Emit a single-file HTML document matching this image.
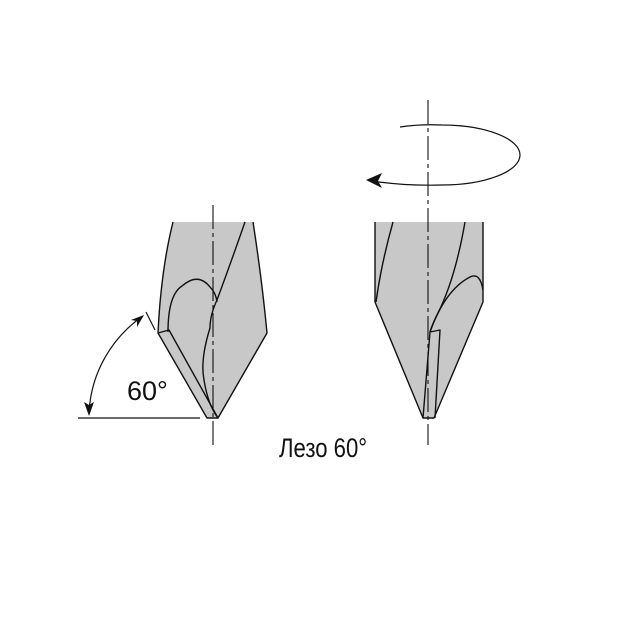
<!DOCTYPE html>
<html><head><meta charset="utf-8"><style>html,body{margin:0;padding:0;background:#fff}</style></head>
<body>
<svg width="630" height="630" viewBox="0 0 630 630" xmlns="http://www.w3.org/2000/svg">
<g stroke="#111" stroke-width="1.4" fill="#c8c8c8" stroke-linejoin="round">
<!-- left drill -->
<path d="M173,222 L253,222 Q262,280 267,333 L218,418 L207,418 L158,333 Q161,270 173,222 Z" stroke="none"/>
<path d="M173,222 Q161,270 158,333 L207,418 L218,418 L267,333 Q262,280 253,222" fill="none"/>
<path d="M158,333 L169,330 L218,418" fill="none"/>
<path d="M245,222 Q230,265 217,300 Q210,315 210,328 Q200,360 204,380 Q208,405 218,418" fill="none"/>
<path d="M168,332 Q168,295 182,286 Q198,272 210,287 Q216,293 217,302" fill="none"/>
<!-- right drill -->
<path d="M375,222 L483,222 L483,302 L434,418 L423,418 L375,302 Z" stroke="none"/>
<path d="M375,222 L375,302 L423,418 L434,418 L483,302 L483,222" fill="none"/>
<path d="M393,222 Q381,265 376,302" fill="none"/>
<path d="M465,222 Q455,280 437,315 Q432,325 430,332" fill="none"/>
<path d="M430,332 Q445,290 470,277 Q480,272 483,290" fill="none"/>
<path d="M430,332 L440,330 L435,418 M430,332 L423,418" fill="none"/>
</g>
<!-- axes -->
<g stroke="#111" stroke-width="1.1" stroke-dasharray="24,4,4,4" fill="none">
<line x1="213" y1="205" x2="213" y2="445"/>
<line x1="428" y1="100" x2="428" y2="445"/>
</g>
<!-- rotation ellipse -->
<path d="M400,127 Q420,124 442,125 A78,30 0 0 1 442,185 Q405,186 372,181" fill="none" stroke="#111" stroke-width="1.2"/>
<path d="M366,180 L382,173 L378,181 L382,188 Z" fill="#111"/>
<!-- dimension -->
<g stroke="#111" stroke-width="1.2" fill="none">
<line x1="78" y1="418" x2="200" y2="418"/>
<line x1="146" y1="312" x2="155" y2="330"/>
<path d="M89,412 A125,125 0 0 1 143,316"/>
</g>
<path d="M89,416 L84,402 L89,405 L94,402 Z" fill="#111"/>
<path d="M144,315 L131,320 L137,321 L137,327 Z" fill="#111"/>
<text x="127" y="400" font-family="Liberation Sans, sans-serif" font-size="27" fill="#111">60°</text>
<text x="279" y="457" font-family="Liberation Sans Narrow, Liberation Sans, sans-serif" font-size="27" fill="#111" transform="translate(279,0) scale(0.82,1) translate(-279,0)">Лезо 60°</text>
</svg>
</body></html>
